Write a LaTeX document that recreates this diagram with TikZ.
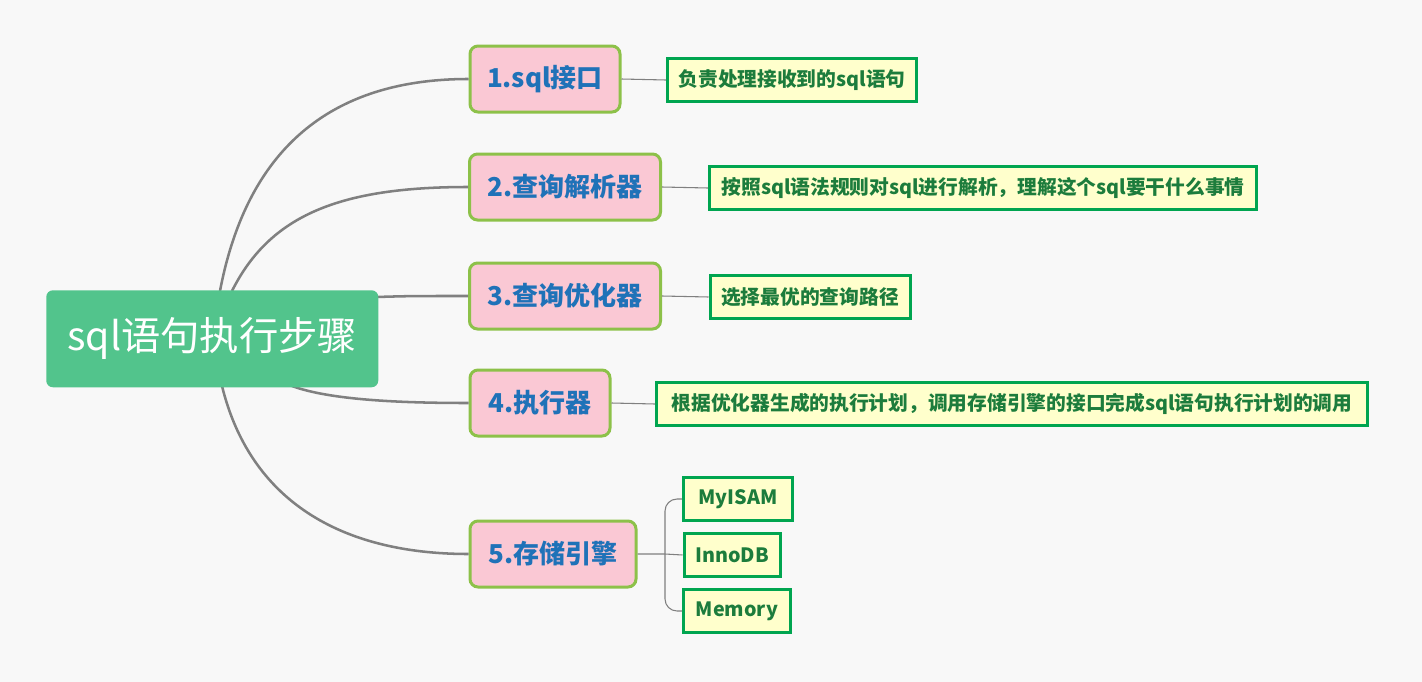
\documentclass[tikz,border=0pt]{standalone}
\usepackage{fontspec}
\setmainfont{Noto Sans CJK SC}
\usetikzlibrary{calc}
\definecolor{bgcol}{HTML}{F8F8F8}
\definecolor{rootcol}{HTML}{52C48C}
\definecolor{stepfill}{HTML}{FAC8D4}
\definecolor{stepline}{HTML}{8DC149}
\definecolor{steptext}{HTML}{1F72B8}
\definecolor{notefill}{HTML}{FFFFCC}
\definecolor{noteline}{HTML}{00A550}
\definecolor{notetext}{HTML}{1C7C3C}
\definecolor{linkcol}{HTML}{808080}
\tikzset{
	rootbox/.style={fill=rootcol, rounded corners=5pt, text=white, font=\fontsize{29.5}{33}\selectfont, minimum width=249pt, minimum height=72.75pt, inner sep=0pt},
	stepbox/.style={fill=stepfill, draw=stepline, line width=2.25pt, rounded corners=6pt, text=steptext, font=\bfseries\fontsize{19.5}{22}\selectfont, minimum height=49.5pt, inner sep=0pt},
	notebox/.style={fill=notefill, draw=noteline, line width=2.25pt, text=notetext, font=\bfseries\fontsize{14.8}{17}\selectfont, minimum height=32.25pt, inner sep=0pt},
	mainlink/.style={draw=linkcol, line width=1.9pt},
	sublink/.style={draw=linkcol, line width=0.8pt}
}
\begin{document}
\begin{tikzpicture}[x=0.75pt, y=-0.75pt]
	\fill[bgcol] (0, 0) rectangle (1422, 682);
	\useasboundingbox (0, 0) rectangle (1422, 682);
	% links from the root
	\coordinate (a1) at (220, 291);
	\coordinate (a2) at (232, 291);
	\coordinate (a4) at (292, 386);
	\coordinate (a5) at (222, 386);
	\node[stepbox, minimum width=112.5pt] (s1) at (545, 79) {1.sql接口};
	\node[stepbox, minimum width=143.25pt] (s2) at (565, 187) {2.查询解析器};
	\node[stepbox, minimum width=143.25pt] (s3) at (565, 296) {3.查询优化器};
	\node[stepbox, minimum width=105pt] (s4) at (540, 403) {4.执行器};
	\node[stepbox, minimum width=124.5pt] (s5) at (553, 554) {5.存储引擎};
	\draw[mainlink] (a1) .. controls (245, 160) and (320, 79) .. (s1.west);
	\draw[mainlink] (a2) .. controls (270, 215) and (340, 187) .. (s2.west);
	\draw[mainlink] (376, 297) .. controls (410, 296) .. (s3.west);
	\draw[mainlink] (a4) .. controls (330, 400) and (400, 403) .. (s4.west);
	\draw[mainlink] (a5) .. controls (250, 500) and (340, 554) .. (s5.west);
	\node[rootbox, anchor=north west] (root) at (46, 290) {sql语句执行步骤};
	% notes
	\node[notebox, minimum width=186.75pt] (n1) at (792, 80) {负责处理接收到的sql语句};
	\node[notebox, minimum width=410.25pt] (n2) at (983, 188) {按照sql语法规则对sql进行解析，理解这个sql要干什么事情};
	\node[notebox, minimum width=150pt] (n3) at (810, 297) {选择最优的查询路径};
	\node[notebox, minimum width=533.25pt] (n4) at (1012, 404) {根据优化器生成的执行计划，调用存储引擎的接口完成sql语句执行计划的调用};
	\node[notebox, minimum width=81.75pt] (e1) at (738, 499) {MyISAM};
	\node[notebox, minimum width=72pt] (e2) at (732, 555) {InnoDB};
	\node[notebox, minimum width=80.25pt] (e3) at (737, 611) {Memory};
	\draw[sublink] (s1.east) -- (n1.west);
	\draw[sublink] (s2.east) -- (n2.west);
	\draw[sublink] (s3.east) -- (n3.west);
	\draw[sublink] (s4.east) -- (n4.west);
	\coordinate (fork) at (665, 554);
	\draw[sublink] (s5.east) -- (fork) -- (e2.west);
	\draw[sublink, rounded corners=9pt] (fork) |- (e1.west);
	\draw[sublink, rounded corners=9pt] (fork) |- (e3.west);
\end{tikzpicture}
\end{document}
